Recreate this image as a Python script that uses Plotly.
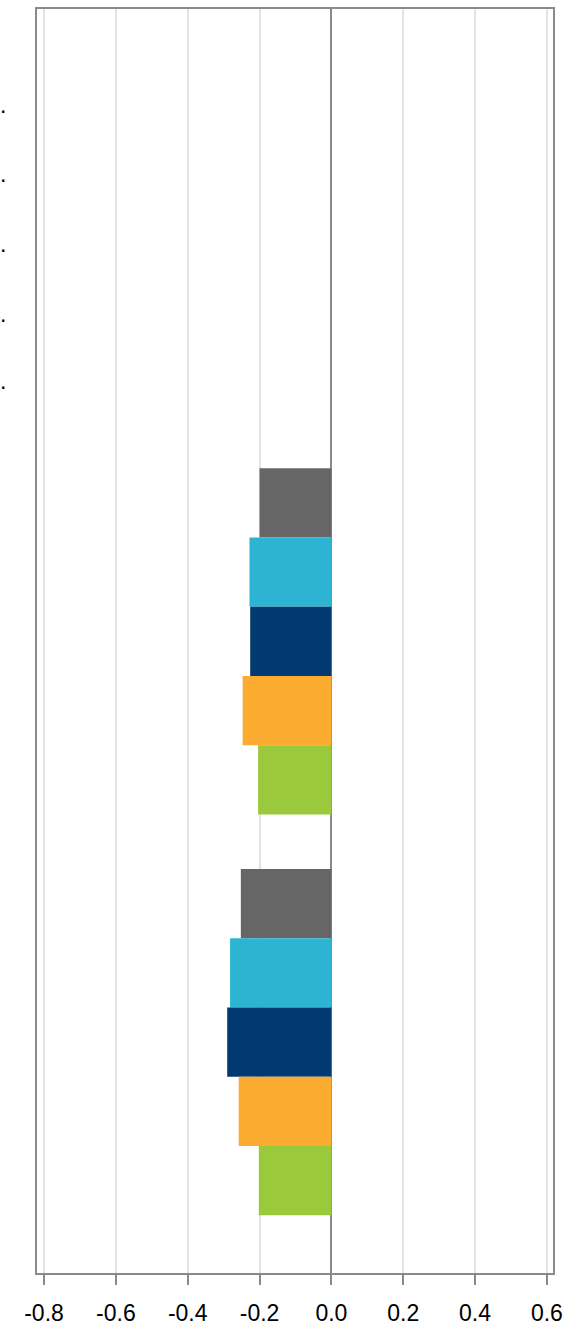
import plotly.graph_objects as go

categories = ["A", "B", "C"]
series_names = ["S1", "S2", "S3", "S4", "S5"]
series_colors = ["#666666", "#2EB4D3", "#003A70", "#FBAB30", "#9BC93C"]
values = {
    "S1": [None, -0.200, -0.252],
    "S2": [None, -0.228, -0.282],
    "S3": [None, -0.226, -0.290],
    "S4": [None, -0.247, -0.258],
    "S5": [None, -0.204, -0.202],
}
tick_vals = [-0.8, -0.6, -0.4, -0.2, 0.0, 0.2, 0.4, 0.6]
tick_text = ["-0.8", "-0.6", "-0.4", "-0.2", "0.0", "0.2", "0.4", "0.6"]

FONT = "Liberation Sans, Arial, sans-serif"

fig = go.Figure()
for name, color in zip(series_names, series_colors):
    fig.add_trace(go.Bar(
        y=categories, x=values[name], orientation="h", name=name,
        marker=dict(color=color, line=dict(width=0)),
    ))

W, H = 570, 1333
ml, mr, mt, mb = 37, 12, 7, 56
ph = H - mt - mb
# labels of the first (empty) group, only their final dot visible at the edge
dot_rows = [103, 173, 243, 313, 381]
for yp in dot_rows:
    fig.add_annotation(
        text=".", xref="paper", yref="paper",
        x=(-2 - ml) / (W - ml - mr), y=(H - mb - yp) / ph,
        xanchor="left", yanchor="middle", showarrow=False,
        font=dict(size=23, color="#000000", family=FONT),
    )

fig.update_layout(
    width=W, height=H,
    margin=dict(l=ml, r=mr, t=mt, b=mb),
    paper_bgcolor="white", plot_bgcolor="white",
    barmode="group", bargap=0.136, bargroupgap=0,
    showlegend=False,
    font=dict(family=FONT, size=23, color="#000000"),
)
fig.update_xaxes(
    range=[-0.8195, 0.617], tickvals=tick_vals, ticktext=tick_text,
    showgrid=True, gridcolor="#e3e3e3", gridwidth=2,
    zeroline=True, zerolinecolor="#8a8a8a", zerolinewidth=2,
    showline=True, linecolor="#8a8a8a", linewidth=2, mirror=True,
    ticks="outside", ticklen=10, tickwidth=2, tickcolor="#8a8a8a",
    ticklabelstandoff=8,
    tickfont=dict(size=23, color="#000000", family=FONT),
)
fig.update_yaxes(
    range=[2.576, -0.578], showticklabels=False, showgrid=False,
    showline=True, linecolor="#8a8a8a", linewidth=2, mirror=True,
    ticks="",
)

fig.write_html("out.html", config={"displayModeBar": False},
               post_script="document.body.style.margin='0';")
